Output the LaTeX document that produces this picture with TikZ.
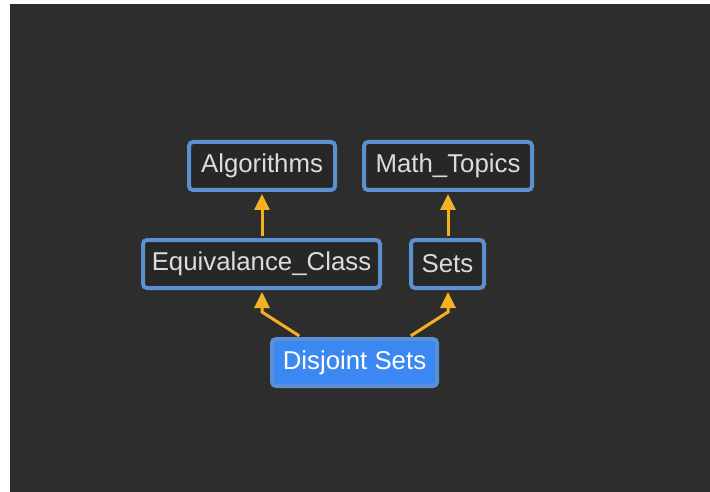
\documentclass[tikz,border=0pt]{standalone}
\usepackage{fontspec}
\setmainfont{Liberation Sans}
\usetikzlibrary{arrows.meta}
\definecolor{canvas}{HTML}{2D2D2D}
\definecolor{boxfill}{HTML}{272727}
\definecolor{boxline}{HTML}{5B91CE}
\definecolor{boxtext}{HTML}{DCDCDC}
\definecolor{hotfill}{HTML}{3C88F2}
\definecolor{hotline}{HTML}{5B8FD6}
\definecolor{link}{HTML}{F4B223}
\begin{document}
\begin{tikzpicture}[x=1pt,y=-1pt,
  topic/.style={draw=boxline, fill=boxfill, line width=4pt, rounded corners=4pt,
    text=boxtext, font=\fontsize{25.8}{27}\selectfont, inner sep=0pt,
    minimum height=48pt},
  current/.style={topic, draw=hotline, fill=hotfill, text=white},
  arr/.style={draw=link, line width=3pt, shorten >=2pt, shorten <=2pt,
    -{Triangle[length=16pt,width=15pt]}}]
  % page and dark canvas
  \useasboundingbox (0,0) rectangle (710,492);
  \fill[white] (-5,-5) rectangle (715,500);
  \fill[canvas] (10,4) rectangle (715,500);

  % topic boxes
  \node[topic, minimum width=146pt] (alg) at (262,166) {Algorithms};
  \node[topic, minimum width=168pt] (math) at (448,166) {Math\_Topics};
  \node[topic, minimum width=237pt] (eq) at (261.5,264) {Equivalance\_Class};
  \node[topic, minimum width=73pt] (sets) at (447.5,264) {Sets};
  \node[current, minimum width=165pt, minimum height=47pt] (ds) at (354.5,362.5) {Disjoint Sets};

  % bends of the two lower links
  \coordinate (k1) at (262,312);
  \coordinate (k2) at (448,312);

  % links
  \draw[arr] (eq.north -| alg.south) -- (alg.south);
  \draw[arr] (sets.north -| math.south) -- (math.south);
  \draw[arr] ([xshift=31pt]ds.north west) -- (k1) -- (eq.south -| k1);
  \draw[arr] ([xshift=-30pt]ds.north east) -- (k2) -- (sets.south -| k2);
\end{tikzpicture}
\end{document}
